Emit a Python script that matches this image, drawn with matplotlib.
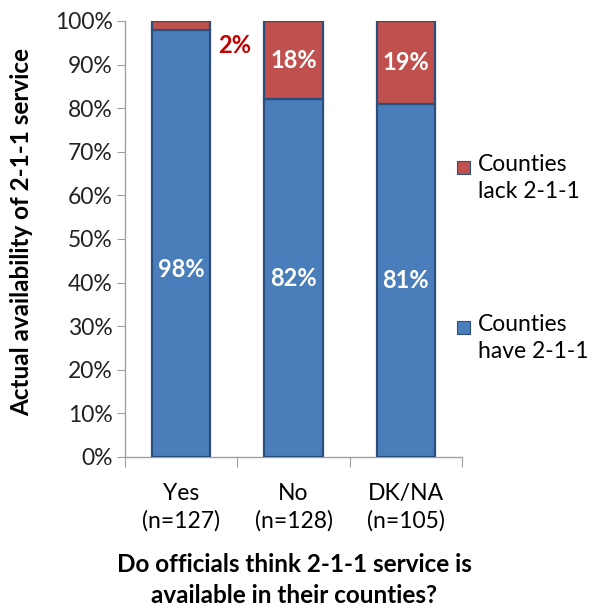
import matplotlib
matplotlib.use("Agg")
import matplotlib.pyplot as plt
from matplotlib.patches import Rectangle

plt.rcParams["font.family"] = ["Lato", "DejaVu Sans"]

categories = ["Yes\n(n=127)", "No\n(n=128)", "DK/NA\n(n=105)"]
have_pct = [98, 82, 81]
lack_pct = [2, 18, 19]
series_names = ["Counties\nlack 2-1-1", "Counties\nhave 2-1-1"]

BLUE = "#4A7EBB"
RED = "#C0504D"
EDGE = "#2C4E7A"
FS = 16.5

fig = plt.figure(figsize=(5.93, 6.12), dpi=100)
ax = fig.add_axes([0.2108, 0.2533, 0.5683, 0.7124])

x = list(range(len(categories)))
w = 0.52
ax.bar(x, have_pct, width=w, color=BLUE, edgecolor=EDGE, linewidth=1.6, zorder=3)
ax.bar(x, lack_pct, width=w, bottom=have_pct, color=RED, edgecolor=EDGE,
       linewidth=1.6, zorder=3)

# value labels: white inside the bars, the thin red slice gets an outside label
for i, (h, l) in enumerate(zip(have_pct, lack_pct)):
    yh = h / 2 if i else 43
    ax.text(i, yh, f"{h}%", color="white", ha="center", va="center",
            fontsize=17, fontweight="bold", zorder=4)
    if l >= 5:
        ax.text(i, h + l / 2, f"{l}%", color="white", ha="center", va="center",
                fontsize=17, fontweight="bold", zorder=4)
    else:
        ax.text(i + 0.48, 94.3, f"{l}%", color="#C00000", ha="center", va="center",
                fontsize=17, fontweight="bold", zorder=4)

ax.set_xlim(-0.5, len(categories) - 0.5)
ax.set_ylim(0, 100)
ax.set_yticks(range(0, 101, 10))
ax.set_yticklabels([f"{v}%" for v in range(0, 101, 10)])
ax.set_xticks([-0.5, 0.5, 1.5, 2.5], minor=False)
ax.set_xticklabels([])
ax.set_xticks(x, minor=True)
ax.set_xticklabels(categories, minor=True, fontsize=FS, linespacing=1.32)
ax.tick_params(axis="x", which="minor", length=0, pad=19)
ax.tick_params(axis="x", which="major", length=7, color="#A0A0A0")
ax.tick_params(axis="y", length=6, color="#A0A0A0", labelsize=FS, pad=3,
               labelcolor="#222222")

for s in ("top", "right"):
    ax.spines[s].set_visible(False)
for s in ("left", "bottom"):
    ax.spines[s].set_color("#A0A0A0")
    ax.spines[s].set_linewidth(1.0)

fig.text(0.036, 0.621, "Actual availability of 2-1-1 service", rotation=90,
         ha="center", va="center", fontsize=17.5, fontweight="bold")
fig.text(0.496, 0.052, "Do officials think 2-1-1 service is\navailable in their counties?",
         ha="center", va="center", fontsize=17.5, fontweight="bold", linespacing=1.4)

# legend drawn by hand so the swatch sits on the first text line
for name, color, ytop in zip(series_names, [RED, BLUE], [161, 321]):
    fig.patches.append(Rectangle((457 / 593, 1 - (ytop + 13) / 612), 13 / 593, 13 / 612,
                                 transform=fig.transFigure, facecolor=color,
                                 edgecolor=EDGE, linewidth=0.8))
    fig.text(478 / 593, 1 - (ytop - 7) / 612, name, ha="left", va="top",
             fontsize=16.5, linespacing=1.38)

fig.savefig("out.png", dpi=100)
